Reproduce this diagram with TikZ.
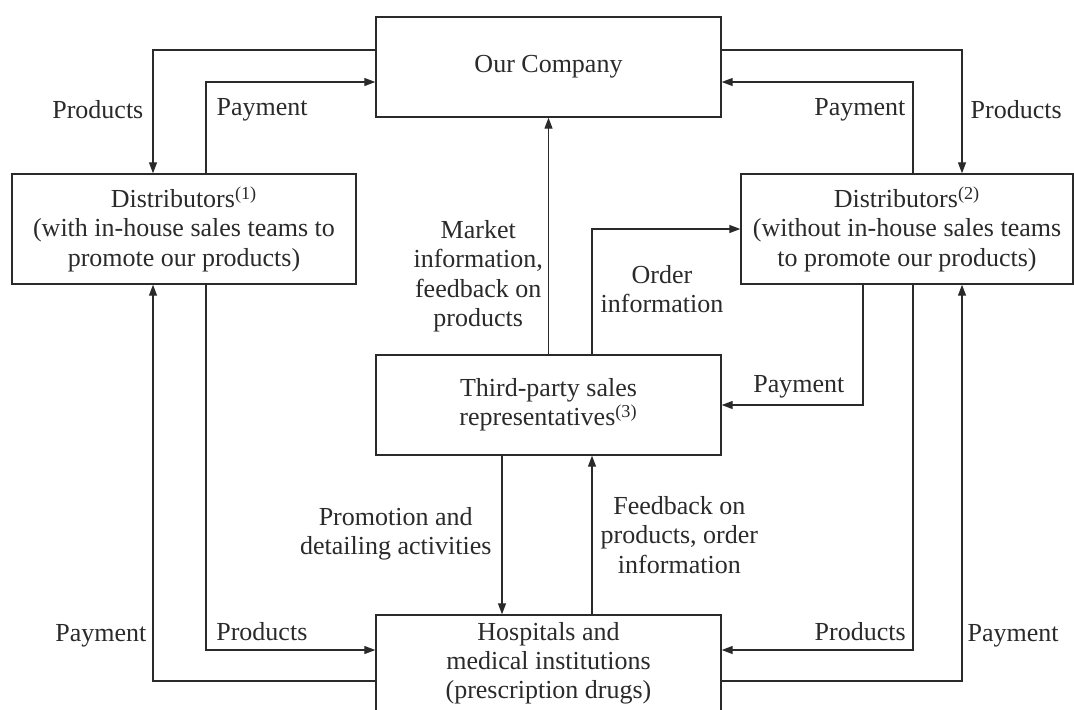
\documentclass[tikz,border=0pt]{standalone}
\usepackage{fontspec}
\setmainfont{Liberation Serif}
\usepackage{tikz}
\usetikzlibrary{arrows.meta,positioning,calc}
\definecolor{ink}{HTML}{2A2A2A}
\tikzset{
  % Plain framed block, sizes given per node.
  box/.style = {rectangle, draw=ink, line width=0.7pt, align=center, inner sep=0pt,
                text=ink},
  arr/.style = {-{Triangle[length=5.5pt,width=4pt]}, draw=ink, line width=0.65pt},
  lbl/.style = {inner sep=0pt, align=center, text=ink},
}
\begin{document}
\begin{tikzpicture}[x=0.5pt, y=-0.5pt, font=\fontsize{13}{14.6}\selectfont]
\useasboundingbox (0,0) rectangle (1074,709);
\clip (0,0) rectangle (1074,709);
\node[box, minimum width=172.5pt, minimum height=50pt] (comp)  at (548.5,67)  {Our Company};
\node[box, minimum width=172pt,   minimum height=55pt] (dist1) at (184,229)
  {Distributors\textsuperscript{(1)}\\(with in-house sales teams to\\promote our products)};
\node[box, minimum width=166pt,   minimum height=55pt] (dist2) at (907,229)
  {Distributors\textsuperscript{(2)}\\(without in-house sales teams\\to promote our products)};
\node[box, minimum width=172.5pt, minimum height=50pt] (third) at (548.5,405)
  {Third-party sales\\representatives\textsuperscript{(3)}};
\node[box, minimum width=172.5pt, minimum height=48.5pt] (hosp) at (548.5,663.5)
  {Hospitals and\\medical institutions\\(prescription drugs)};
% company <-> distributors
\draw[arr] ([yshift=8.5pt]comp.west) -| node[lbl, left=4.5pt, pos=0.74] (prodL) {Products} ([xshift=-15.5pt]dist1.north);
\draw[arr] ([xshift=11pt]dist1.north) |- node[lbl, right=5pt, pos=0.35] (payL) {Payment} ([yshift=-7.5pt]comp.west);
\draw[arr] ([yshift=8.5pt]comp.east) -| node[lbl, right=4pt, pos=0.74] (prodR) {Products} ([xshift=27.5pt]dist2.north);
\draw[arr] ([xshift=3pt]dist2.north) |- node[lbl, left=3.5pt, pos=0.35] (payR) {Payment} ([yshift=-7.5pt]comp.east);
% sales representatives
\draw[arr] (third.north) -- node[lbl, left=2.5pt, pos=0.33] (mkt) {Market\\information,\\feedback on\\products} (comp.south);
\draw[arr] ([xshift=21.75pt]third.north) |- node[lbl, right=4pt, pos=0.26] (ord) {Order\\information} (dist2.west);
\draw[arr] ([xshift=-22pt]dist2.south) |- node[lbl, above=3pt, pos=0.727] (payM) {Payment} (third.east);
\draw[arr] ([xshift=-23.25pt]third.south) -- node[lbl, left=5pt, pos=0.49] (promo) {Promotion and\\detailing activities} ([xshift=-23.25pt]hosp.north);
\draw[arr] ([xshift=21.75pt]hosp.north) -- node[lbl, right=4pt, pos=0.5] (fdbk) {Feedback on\\products, order\\information} ([xshift=21.75pt]third.south);
% distributors <-> hospitals
\draw[arr] ([xshift=11pt]dist1.south) |- node[lbl, above=4.5pt, pos=0.665] (prodBL) {Products} ([yshift=6.75pt]hosp.west);
\draw[arr] ([yshift=-8.75pt]hosp.west) -| node[lbl, left=3pt, pos=0.557] (payBL) {Payment} ([xshift=-15.5pt]dist1.south);
\draw[arr] ([xshift=3pt]dist2.south) |- node[lbl, above=4.5pt, pos=0.638] (prodBR) {Products} ([yshift=6.75pt]hosp.east);
\draw[arr] ([yshift=-8.75pt]hosp.east) -| node[lbl, right=2.5pt, pos=0.557] (payBR) {Payment} ([xshift=27.5pt]dist2.south);
\end{tikzpicture}
\end{document}
